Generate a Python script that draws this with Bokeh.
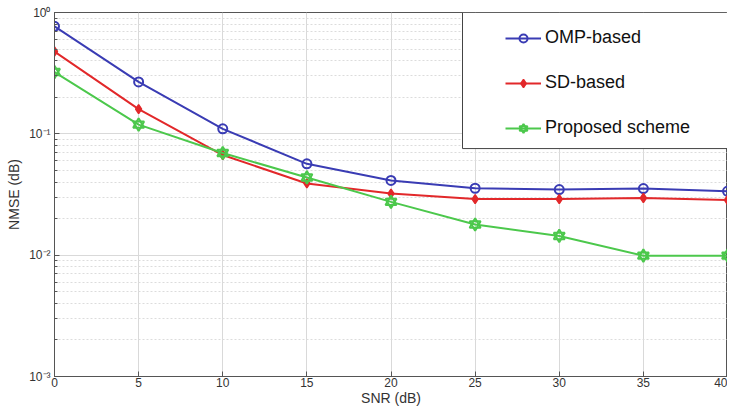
from bokeh.plotting import figure
from bokeh.models import (Legend, LegendItem, BoxAnnotation, SingleIntervalTicker,
                          CustomJSTickFormatter, Range1d)
from bokeh.embed import file_html
from bokeh.resources import INLINE

snr = [0, 5, 10, 15, 20, 25, 30, 35, 40]
omp = [0.77, 0.268, 0.110, 0.0566, 0.0413, 0.0356, 0.0347, 0.0354, 0.0336]
sd = [0.477, 0.160, 0.0669, 0.0390, 0.0322, 0.0290, 0.0290, 0.0296, 0.0285]
proposed = [0.323, 0.119, 0.0695, 0.0437, 0.0275, 0.0179, 0.0144, 0.0099, 0.0099]
labels = ["OMP-based", "SD-based", "Proposed scheme"]

BLUE = "#3a3cb4"
RED = "#e2282a"
GREEN = "#4cc84c"
FONT = "Liberation Sans"

p = figure(width=727, height=408, y_axis_type="log", output_backend="svg",
           toolbar_location=None, x_range=Range1d(0, 40), y_range=Range1d(1e-3, 1),
           min_border_left=54, min_border_right=0, min_border_top=12, min_border_bottom=24)
p.background_fill_color = "white"
p.border_fill_color = "white"
p.outline_line_color = "#555555"

# grids
p.xgrid.grid_line_color = "#d9d9d9"
p.ygrid.grid_line_color = "#d9d9d9"
p.ygrid.minor_grid_line_color = "#dcdcdc"
p.ygrid.minor_grid_line_dash = "2 2"

# axes
p.xaxis.ticker = SingleIntervalTicker(interval=5, num_minor_ticks=0)
p.yaxis.formatter = CustomJSTickFormatter(code="""
const sup = {'-':'\u207b','0':'\u2070','1':'\u00b9','2':'\u00b2','3':'\u00b3','4':'\u2074',
             '5':'\u2075','6':'\u2076','7':'\u2077','8':'\u2078','9':'\u2079'};
const e = Math.round(Math.log10(tick));
return '10' + String(e).split('').map(c => sup[c]).join('');
""")
for ax in (p.xaxis, p.yaxis):
    ax.axis_line_color = "#555555"
    ax.major_tick_line_color = "#555555"
    ax.minor_tick_line_color = "#555555"
    ax.major_tick_in = 5
    ax.major_tick_out = 0
    ax.minor_tick_in = 3
    ax.minor_tick_out = 0
    ax.major_label_text_font = FONT
    ax.major_label_text_font_size = "12px"
    ax.major_label_text_color = "#333333"
    ax.axis_label_text_font = FONT
    ax.axis_label_text_font_size = "14px"
    ax.axis_label_text_font_style = "normal"
    ax.axis_label_text_color = "#333333"
p.xaxis.major_label_standoff = 1
p.xaxis.axis_label_standoff = 0
p.yaxis.major_label_standoff = 4
p.yaxis.axis_label_standoff = 4
p.xaxis.axis_label = "SNR (dB)"
p.yaxis.axis_label = "NMSE (dB)"

# series
l1 = p.line(snr, omp, line_color=BLUE, line_width=2)
m1 = p.scatter(snr, omp, marker="circle", size=9, line_color=BLUE, line_width=2, fill_color=None)
l2 = p.line(snr, sd, line_color=RED, line_width=2)
m2 = p.scatter(snr, sd, marker="diamond", size=9, line_color=RED, line_width=1.5, fill_color=RED)
l3 = p.line(snr, proposed, line_color=GREEN, line_width=2)
m3a = p.scatter(snr, proposed, marker="triangle", size=11, line_color=GREEN, line_width=2, fill_color=None)
m3b = p.scatter(snr, proposed, marker="inverted_triangle", size=11, line_color=GREEN, line_width=2, fill_color=None)

# legend box frame
box = BoxAnnotation(left=24.25, right=40, top=1, bottom=0.0756,
                    fill_color="white", fill_alpha=1.0,
                    line_color="#444444", line_width=1, line_alpha=1.0)
p.add_layout(box)

legend = Legend(items=[
    LegendItem(label=labels[0], renderers=[l1, m1]),
    LegendItem(label=labels[1], renderers=[l2, m2]),
    LegendItem(label=labels[2], renderers=[l3, m3a, m3b]),
], location="top_right")
legend.margin = 0
legend.padding = 15
legend.spacing = 24
legend.glyph_width = 36
legend.glyph_height = 20
legend.label_height = 20
legend.label_width = 167
legend.label_standoff = 4
legend.label_text_font = FONT
legend.label_text_font_size = "18px"
legend.label_text_color = "#111111"
legend.border_line_alpha = 0
legend.background_fill_alpha = 0
p.add_layout(legend)

open("out.html", "w").write(file_html(p, INLINE))
